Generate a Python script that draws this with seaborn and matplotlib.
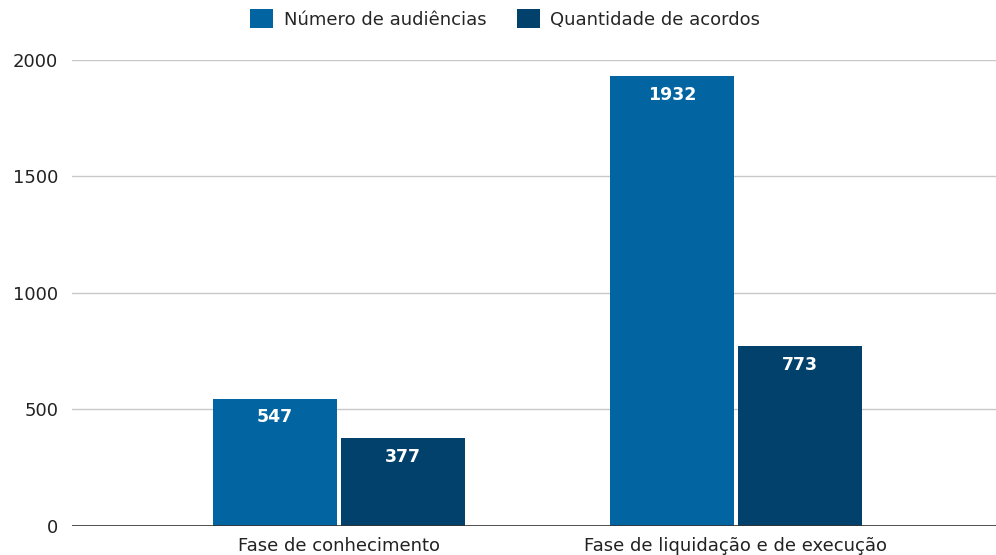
import pandas as pd
import seaborn as sns
import matplotlib.pyplot as plt

categories = ['Fase de conhecimento', 'Fase de liquidação e de execução']
series = ['Número de audiências', 'Quantidade de acordos']
audiencias = [547, 1932]
acordos = [377, 773]
colors = ['#0265a1', '#01416b']

df = pd.DataFrame({
    'Fase': categories * 2,
    'Série': [series[0]] * 2 + [series[1]] * 2,
    'Valor': audiencias + acordos,
})

sns.set_style("white")
plt.rcParams['font.family'] = ['DejaVu Sans']

fig = plt.figure(figsize=(9.96, 5.55), dpi=100)
ax = fig.add_axes([0.0723, 0.0523, 0.9277, 0.8397])
sns.barplot(data=df, x='Fase', y='Valor', hue='Série', palette=colors,
            width=0.645, gap=0.03, saturation=1, linewidth=0, ax=ax, legend=True)

for cont in ax.containers:
    for bar in cont:
        h = bar.get_height()
        ax.annotate(f'{int(h)}', (bar.get_x() + bar.get_width() / 2, h),
                    xytext=(0, -7), textcoords='offset points',
                    ha='center', va='top', color='white', fontsize=12.5, fontweight='bold')

ax.set_ylim(0, 2000)
ax.set_xlim(-0.672, 1.655)
ax.set_yticks([0, 500, 1000, 1500, 2000])
ax.yaxis.grid(True, color='#c8c8c8', linewidth=1)
ax.set_axisbelow(True)
ax.axhline(0, color='#333333', linewidth=1.2, zorder=5)
for s in ['top', 'right', 'left', 'bottom']:
    ax.spines[s].set_visible(False)
ax.tick_params(axis='y', length=0, pad=10, labelsize=13, labelcolor='#222222')
ax.tick_params(axis='x', length=0, pad=8, labelsize=13, labelcolor='#222222')
ax.set_xlabel('')
ax.set_ylabel('')

handles, labels = ax.get_legend_handles_labels()
ax.legend(handles, labels, loc='center', bbox_to_anchor=(0.469, 1.088), ncol=2,
          frameon=False, fontsize=13, handlelength=1.25, handleheight=1.25,
          columnspacing=1.7, handletextpad=0.6, borderaxespad=0, borderpad=0)

fig.savefig('out.png', dpi=100)
plt.close()
